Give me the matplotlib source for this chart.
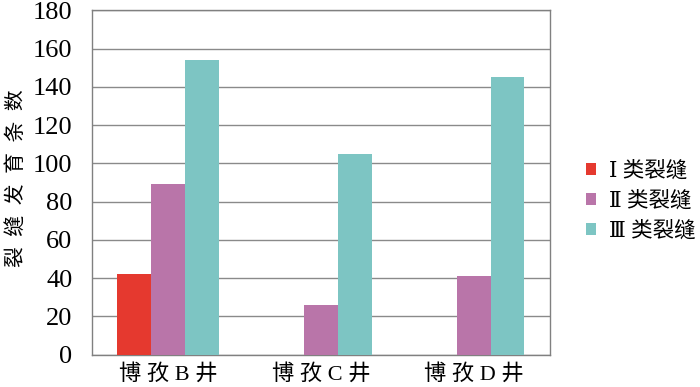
import matplotlib
matplotlib.use("Agg")
import matplotlib.pyplot as plt
from matplotlib.patches import Patch
import numpy as np

# 数据
WELLS  = ["博孜B井", "博孜C井", "博孜D井"]
TYPES  = ["Ⅰ 类裂缝", "Ⅱ 类裂缝", "Ⅲ 类裂缝"]
TYPE1  = [42, 0, 0]
TYPE2  = [89, 26, 41]
TYPE3  = [154, 105, 145]
COLORS = ["#E5392F", "#B975A9", "#7DC5C3"]
YTICKS = list(range(0, 181, 20))

FONT = ["Liberation Serif", "DejaVu Serif", "Noto Sans CJK SC"]
plt.rcParams["font.family"] = FONT
plt.rcParams["axes.unicode_minus"] = False

fig = plt.figure(figsize=(7, 3.87), dpi=100)
ax = fig.add_axes([0.1314, 0.0835, 0.6543, 0.8894])

x = np.arange(len(WELLS))
w = 0.222
for i, (vals, c) in enumerate(zip([TYPE1, TYPE2, TYPE3], COLORS)):
    ax.bar(x + (i - 1) * w, vals, width=w, color=c, zorder=3)

ax.set_xlim(-0.5, len(WELLS) - 0.5)
ax.set_ylim(0, 180)
ax.set_yticks(YTICKS)
ax.set_yticklabels([str(v) for v in YTICKS], fontsize=19)
ax.set_xticks(x)
ax.set_xticklabels([" ".join(list(s)) for s in WELLS], fontsize=16)
ax.tick_params(axis="y", length=0, pad=14)
ax.tick_params(axis="x", length=0, pad=7)
ax.grid(axis="y", color="#8a8a8a", linewidth=1.0, zorder=0)
for s in ax.spines.values():
    s.set_color("#808080")
    s.set_linewidth(1.0)

fig.text(0.026, 0.54, "  ".join(list("裂缝发育条数")), rotation=90,
         ha="center", va="center", fontsize=15)

handles = [Patch(facecolor=c, edgecolor="none") for c in COLORS]
fig.legend(handles, TYPES, loc="center left", bbox_to_anchor=(0.81, 0.48),
           frameon=False, fontsize=15.5, handlelength=0.45, handleheight=0.45,
           handletextpad=0.6, labelspacing=0.45)

fig.savefig("out.png", dpi=100)
